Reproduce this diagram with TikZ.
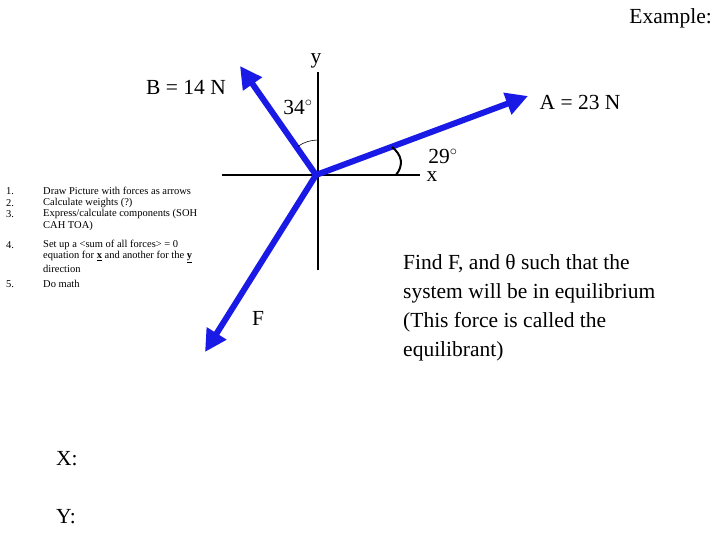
\documentclass[tikz,border=0pt]{standalone}
\usepackage{fontspec}
\setmainfont{Liberation Serif}
\usetikzlibrary{arrows.meta}
\begin{document}
\begin{tikzpicture}[x=1pt,y=-1pt,
  force/.style={line width=6pt,draw={rgb,255:red,26;green,26;blue,230},-{Triangle[length=22pt,width=22pt]}},
  axis/.style={line width=1.2pt},
  big/.style={font=\fontsize{21.5}{29}\selectfont,inner sep=0pt},
  small/.style={font=\fontsize{10.5}{12}\selectfont,inner sep=0pt,anchor=west}]
\useasboundingbox (0,0) rectangle (720,540);
\coordinate (o) at (316,175);
\coordinate (xl) at (222,175); \coordinate (xr) at (420,175);
\coordinate (yt) at (318,72); \coordinate (yb) at (318,270);
\draw[axis] (xl) -- (xr);
\draw[axis] (yt) -- (yb);
\coordinate (b) at (240,66); \coordinate (a) at (528,96); \coordinate (f) at (205,352);
\draw[force] (o) -- (b);
\draw[force] (o) -- (a);
\draw[force] (o) -- (f);
\draw[line width=0.6pt] (318,140) arc[start angle=-90,end angle=-125,radius=35];
\draw[line width=2pt] (392,147) .. controls (402,155) and (404,165) .. (396,175);
\node[big,anchor=east] (ex) at (712,18) {Example:};
\node[big] (ly) at (316,61) {y};
\node[big] (lb) at (186,87) {B = 14 N};
\node[big] (l34) at (298,107) {34$^{\circ}$};
\node[big] (la) at (580,102) {A = 23 N};
\node[big] (l29) at (443,156) {29$^{\circ}$};
\node[big] (lx) at (432,177) {x};
\node[big] (lf) at (258,318) {F};
\node[big,anchor=north west,align=left] (find) at (403,254) {Find F, and θ such that the\\system will be in equilibrium\\(This force is called the\\equilibrant)};
\node[small] (n1) at (6,191) {1.};
\node[small] (n2) at (6,203) {2.};
\node[small] (n3) at (6,214) {3.};
\node[small] (n4) at (6,245) {4.};
\node[small] (n5) at (6,284) {5.};
\node[small] (t1) at (43,191) {Draw Picture with forces as arrows};
\node[small] (t2) at (43,203) {Calculate weights (?)};
\node[small] (t3) at (43,214) {Express/calculate components (SOH};
\node[small] (t3b) at (43,226) {CAH TOA)};
\node[small] (t4) at (43,245) {Set up a <sum of all forces> = 0};
\node[small] (t4b) at (43,257) {equation for \underline{\textbf{x}} and another for the \underline{\textbf{y}}};
\node[small] (t4c) at (43,269) {direction};
\node[small] (t5) at (43,284) {Do math};
\node[big,anchor=west] (X) at (56,459) {X:};
\node[big,anchor=west] (Y) at (56,517) {Y:};
\end{tikzpicture}
\end{document}
